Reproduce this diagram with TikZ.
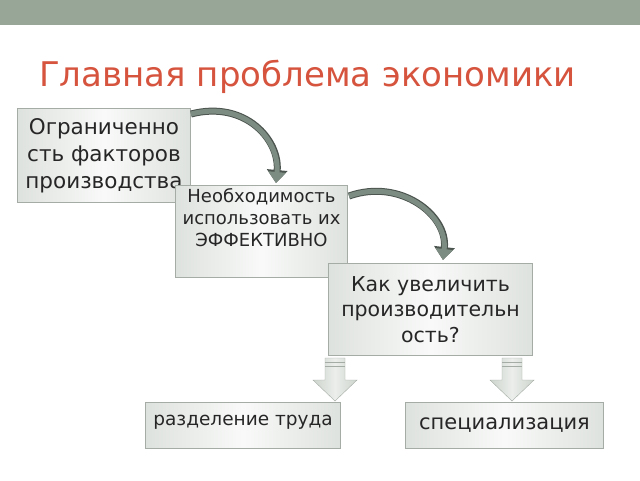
\documentclass[tikz,border=0pt]{standalone}
\usepackage{fontspec}
\setmainfont{DejaVu Sans}
\usetikzlibrary{arrows.meta}
\definecolor{bar}{RGB}{152,166,152}
\definecolor{ttl}{RGB}{214,84,62}
\definecolor{bfill}{RGB}{222,226,222}
\definecolor{bdraw}{RGB}{165,172,165}
\definecolor{arr}{RGB}{125,140,130}
\definecolor{blk}{RGB}{205,212,205}
\begin{document}
\begin{tikzpicture}[x=1pt,y=-1pt,
  box/.style={draw=bdraw,line width=1pt,inner sep=2pt,align=center,
    left color=bfill,right color=bfill,middle color=white!80!bfill,text=black!85},
  curv/.style={draw=arr!60!black,line width=7pt,-{Triangle[width=20pt,length=13pt]},
    postaction={draw=arr,line width=5pt,-{Triangle[width=17pt,length=11pt]}}},
  down/.style={draw=bdraw,left color=blk,right color=blk,middle color=white!60!blk}]
\useasboundingbox (0,0) rectangle (640,480);
\fill[white] (0,0) rectangle (640,480);
\fill[bar] (0,0) rectangle (640,25);
\node[anchor=base west,text=ttl,font=\fontsize{34}{40}\selectfont,inner sep=0] (title) at (39,86) {Главная проблема экономики};
\node[box,minimum width=173pt,minimum height=94pt,font=\fontsize{21.5}{27}\selectfont,anchor=north west] (a) at (17,108) {Ограниченно\\сть факторов\\производства};
\node[box,minimum width=172pt,minimum height=92pt,font=\fontsize{18}{22}\selectfont,anchor=north west,text depth=28pt] (b) at (175,185) {Необходимость\\использовать их\\ЭФФЕКТИВНО};
\node[box,minimum width=204pt,minimum height=92pt,font=\fontsize{20.5}{25.5}\selectfont,anchor=north west] (c) at (328,263) {Как увеличить\\производительн\\ость?};
\node[box,minimum width=195pt,minimum height=46pt,font=\fontsize{18.5}{22}\selectfont,anchor=north west,text height=20pt,text depth=20pt] (d) at (145,402) {разделение труда};
\node[box,minimum width=198pt,minimum height=46pt,font=\fontsize{21}{24}\selectfont,anchor=north west,text height=24pt,text depth=16pt] (e) at (405,402) {специализация};
\coordinate (a1) at (191,114);
\coordinate (a2) at (276,183);
\coordinate (b1) at (349,196);
\coordinate (b2) at (443,260);
\draw[curv] (a1) .. controls (245,100) and (280,140) .. (a2);
\draw[curv] (b1) .. controls (400,178) and (448,215) .. (b2);
\foreach \x in {335,512}{
  \draw[down] (\x-10,358) -- (\x+10,358) -- (\x+10,380) -- (\x+22,380) -- (\x,401) -- (\x-22,380) -- (\x-10,380) -- cycle;
  \draw[bdraw] (\x-10,362) -- (\x+10,362) (\x-10,366) -- (\x+10,366);
}
\end{tikzpicture}
\end{document}
